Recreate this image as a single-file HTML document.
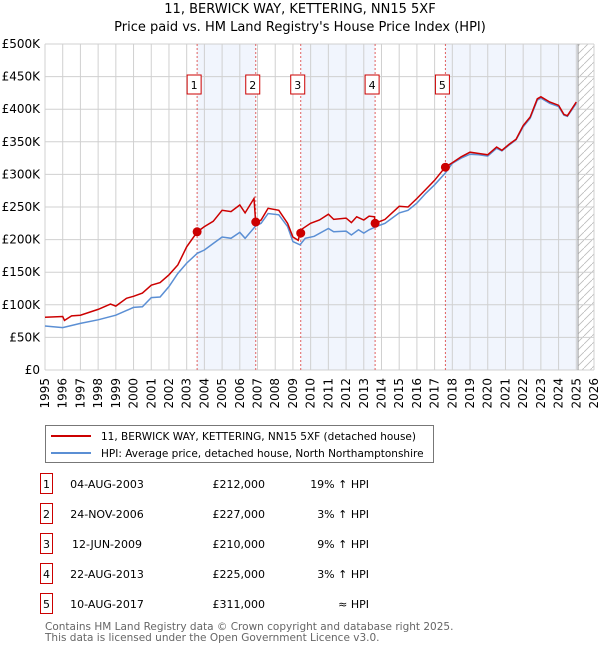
<!DOCTYPE html>
<html><head><meta charset="utf-8">
<style>
body{margin:0;background:#fff;font-family:"DejaVu Sans","Liberation Sans",sans-serif;}
svg text{font-family:"DejaVu Sans","Liberation Sans",sans-serif;}
</style></head>
<body>
<svg id="chart" width="600" height="650" viewBox="0 0 600 650" xmlns="http://www.w3.org/2000/svg">
<text x="300" y="13" text-anchor="middle" font-size="13">11, BERWICK WAY, KETTERING, NN15 5XF</text>
<text x="300" y="31" text-anchor="middle" font-size="13">Price paid vs. HM Land Registry's House Price Index (HPI)</text>
<g id="plot"></g>
<g>
<rect x="45.5" y="425.5" width="388" height="37" fill="#fff" stroke="#777"/>
<line x1="51" y1="436" x2="91" y2="436" stroke="#cc0000" stroke-width="2"/>
<text x="101" y="440" font-size="10.5">11, BERWICK WAY, KETTERING, NN15 5XF (detached house)</text>
<line x1="51" y1="453" x2="91" y2="453" stroke="#5b8fd4" stroke-width="2"/>
<text x="101" y="457" font-size="10.5">HPI: Average price, detached house, North Northamptonshire</text>
</g>
<g id="table"></g>
<text x="45" y="630" font-size="10.5" fill="#666">Contains HM Land Registry data © Crown copyright and database right 2025.</text>
<text x="45" y="641" font-size="10.5" fill="#666">This data is licensed under the Open Government Licence v3.0.</text>
</svg>
<script>
const yTicks=[0,50,100,150,200,250,300,350,400,450,500];
const yTickLabels=["£0","£50K","£100K","£150K","£200K","£250K","£300K","£350K","£400K","£450K","£500K"];
const years=[1995,1996,1997,1998,1999,2000,2001,2002,2003,2004,2005,2006,2007,2008,2009,2010,2011,2012,2013,2014,2015,2016,2017,2018,2019,2020,2021,2022,2023,2024,2025,2026];
const hpiT=[1995.0,1996.0,1997.0,1998.0,1999.0,2000.0,2000.5,2001.0,2001.5,2002.0,2002.5,2003.0,2003.6,2004.0,2004.5,2005.0,2005.5,2006.0,2006.3,2006.9,2007.2,2007.6,2008.2,2008.7,2009.0,2009.4,2009.7,2010.2,2011.0,2011.3,2012.0,2012.3,2012.7,2013.0,2013.3,2013.7,2014.2,2015.0,2015.5,2016.0,2016.5,2017.0,2017.6,2018.0,2018.5,2019.0,2019.5,2020.0,2020.5,2020.8,2021.2,2021.6,2022.0,2022.4,2022.8,2023.0,2023.5,2024.0,2024.3,2024.5,2025.0];
const hpiV=[67.5,65,71.5,77,84,96,97,111,112,128,148,164,179,184,194,204,202,211,202,221,225,240,238,220,197,192,202,205,217,212,213,207,215,210,215,220,225,241,245,256,271,284,302,317,325,331,330,328,340,336,345,353,373,386,414,417,409,404,391,389,409];
const ppT=[1995.0,1996.0,1996.1,1996.5,1997.0,1998.0,1998.7,1999.0,1999.6,2000.0,2000.5,2001.0,2001.5,2002.0,2002.5,2003.0,2003.6,2004.0,2004.5,2005.0,2005.5,2006.0,2006.3,2006.8,2006.9,2007.2,2007.6,2008.2,2008.7,2009.0,2009.3,2009.45,2010.0,2010.5,2011.0,2011.3,2012.0,2012.3,2012.6,2013.0,2013.3,2013.6,2013.65,2014.2,2015.0,2015.5,2016.0,2016.5,2017.0,2017.6,2018.0,2018.5,2019.0,2019.5,2020.0,2020.5,2020.8,2021.2,2021.6,2022.0,2022.4,2022.8,2023.0,2023.5,2024.0,2024.3,2024.5,2025.0];
const ppV=[81,82,76,83,84,93,101,98,110,113,118,130,134,146,161,189,212,220,228,245,243,253,241,263,226,230,248,245,225,204,199,215,225,230,239,231,233,226,235,230,236,235,225,231,251,250,263,277,291,311,318,327,334,332,330,342,337,346,354,375,388,416,419,411,406,392,390,411];
const saleT=[2003.59,2006.9,2009.44,2013.64,2017.61];
const saleV=[212,227,210,225,311];
const saleLabels=["1","2","3","4","5"];
const saleDates=["04-AUG-2003","24-NOV-2006","12-JUN-2009","22-AUG-2013","10-AUG-2017"];
const salePrices=["£212,000","£227,000","£210,000","£225,000","£311,000"];
const saleHpi=["19% ↑ HPI","3% ↑ HPI","9% ↑ HPI","3% ↑ HPI","≈ HPI"];
const dataEnd=2025.1;

const NS="http://www.w3.org/2000/svg";
const L=45,R=594,T=44,B=370;
const x=t=>L+(t-1995)/(2026-1995)*(R-L);
const y=v=>B-v/500*(B-T);
const plot=document.getElementById('plot');
function mk(tag,attrs,parent){const e=document.createElementNS(NS,tag);for(const k in attrs)e.setAttribute(k,attrs[k]);(parent||plot).appendChild(e);return e;}

for(let i=0;i<saleT.length;i+=2){
  const s=saleT[i],e=i+1<saleT.length?saleT[i+1]:dataEnd;
  const r=mk('rect',{x:x(s),y:T,width:x(e)-x(s),height:B-T,fill:'#eef3fc',opacity:0.8});
  
  
}
const defs=mk('defs',{});
const pat=mk('pattern',{id:'hatch',width:8,height:8,patternUnits:'userSpaceOnUse'},defs);
mk('path',{d:'M0,8 L8,0',stroke:'#bbb','stroke-width':0.8},pat);
const h=mk('rect',{x:x(dataEnd),y:T,width:R-x(dataEnd),height:B-T,fill:'url(#hatch)'});


years.forEach(yr=>{
  mk('line',{x1:x(yr),x2:x(yr),y1:T,y2:B,stroke:'#d0d0d0','stroke-width':1});
  const t=mk('text',{transform:`translate(${x(yr)+4},${B+8}) rotate(-90)`,'text-anchor':'end','font-size':12});
  t.textContent=yr;
  
  
});
yTicks.forEach((v,i)=>{
  mk('line',{x1:L,x2:R,y1:y(v),y2:y(v),stroke:'#d0d0d0','stroke-width':1});
  const t=mk('text',{x:L-5,y:y(v)+4,'text-anchor':'end','font-size':12});
  t.textContent=yTickLabels[i];
  
  
});
mk('line',{x1:x(dataEnd),x2:x(dataEnd),y1:T,y2:B,stroke:'#999','stroke-width':1});
saleT.forEach((s,i)=>{
  const l=mk('line',{x1:x(s),x2:x(s),y1:T,y2:B,stroke:'#e06060','stroke-width':1,'stroke-dasharray':'2,2'});
  
  
  const g=mk('g',{});
  
  
  mk('rect',{x:x(s)-10,y:75,width:14,height:19,fill:'#fff',stroke:'#cc0000','stroke-width':1},g);
  const t=mk('text',{x:x(s)-3,y:89,'text-anchor':'middle','font-size':11},g);
  t.textContent=saleLabels[i];
});
const path=(ts,vs)=>ts.map((t,i)=>(i?'L':'M')+x(t).toFixed(1)+','+y(vs[i]).toFixed(1)).join(' ');
const hp=mk('path',{d:path(hpiT,hpiV),fill:'none',stroke:'#5b8fd4','stroke-width':1.5});


const pp=mk('path',{d:path(ppT,ppV),fill:'none',stroke:'#cc0000','stroke-width':1.5});


saleT.forEach((s,i)=>{
  const c=mk('circle',{cx:x(s),cy:y(saleV[i]),r:4.5,fill:'#cc0000'});
  
  
});
const tb=document.getElementById('table');
saleLabels.forEach((lab,i)=>{
  const yy=484+i*30;
  const g=mk('g',{},tb);
  
  
  mk('rect',{x:40.5,y:yy-10.5,width:12,height:20,fill:'#fff',stroke:'#cc0000'},g);
  let t=mk('text',{x:46.5,y:yy+4,'text-anchor':'middle','font-size':11},g);t.textContent=lab;
  t=mk('text',{x:107,y:yy+4,'text-anchor':'middle','font-size':11},g);t.textContent=saleDates[i];
  t=mk('text',{x:265,y:yy+4,'text-anchor':'end','font-size':11},g);t.textContent=salePrices[i];
  t=mk('text',{x:369,y:yy+4,'text-anchor':'end','font-size':11},g);t.textContent=saleHpi[i];
});
</script>
</body></html>
